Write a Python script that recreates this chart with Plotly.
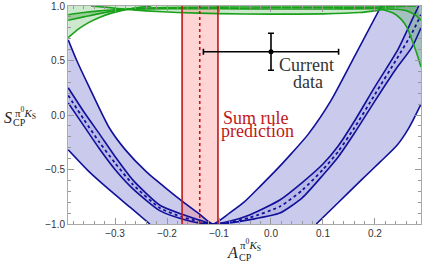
import plotly.graph_objects as go

# ---------------- data ----------------
X_RANGE = [-0.3904, 0.2885]
Y_RANGE = [-1.0, 1.0]

# outer blue band: upper boundary (V-shaped) and lower boundary (two branches)
U_A = [-0.39, -0.374, -0.35, -0.312, -0.28, -0.24, -0.2, -0.171, -0.14, -0.112,
       -0.08, -0.052, -0.02, 0.013, 0.04, 0.071, 0.115, 0.162, 0.212]
U_S = [0.69, 0.505, 0.26, -0.11, -0.32, -0.52, -0.68, -0.79, -0.9, -1.0,
       -0.9, -0.8, -0.65, -0.49, -0.35, -0.18, 0.13, 0.55, 1.0]
L_LEFT_A = [-0.39, -0.35, -0.31, -0.27, -0.233]
L_LEFT_S = [-0.32, -0.52, -0.69, -0.85, -1.0]
L_RIGHT_A = [0.087, 0.13, 0.173, 0.21, 0.242, 0.265, 0.2885]
L_RIGHT_S = [-1.0, -0.8, -0.6, -0.43, -0.28, -0.12, 0.1]

# inner blue band
IH_A = [-0.39, -0.36, -0.329, -0.30, -0.265, -0.213, -0.171, -0.14, -0.112,
        -0.08, -0.04, 0.017, 0.06, 0.10, 0.13, 0.16, 0.2, 0.244, 0.271, 0.284]
IH_S = [0.25, 0.03, -0.18, -0.38, -0.6, -0.83, -0.91, -0.96, -1.0,
        -0.975, -0.915, -0.78, -0.62, -0.45, -0.28, -0.06, 0.26, 0.6, 0.87, 1.0]
IL_A = [-0.39, -0.36, -0.33, -0.30, -0.265, -0.213, -0.171, -0.14, -0.112,
        -0.08, -0.04, 0.017, 0.06, 0.1, 0.13, 0.16, 0.2, 0.24, 0.271, 0.2885]
IL_S = [0.11, -0.1, -0.31, -0.5, -0.68, -0.88, -0.955, -0.99, -1.0,
        -0.99, -0.96, -0.9, -0.76, -0.55, -0.38, -0.17, 0.13, 0.42, 0.62, 0.8]
IM_A = [-0.39, -0.36, -0.33, -0.30, -0.265, -0.213, -0.171, -0.14, -0.112,
        -0.08, -0.04, 0.017, 0.06, 0.1, 0.13, 0.16, 0.2, 0.24, 0.271, 0.2885]
IM_S = [0.18, -0.04, -0.25, -0.44, -0.64, -0.855, -0.935, -0.975, -1.0,
        -0.985, -0.94, -0.84, -0.69, -0.5, -0.33, -0.12, 0.19, 0.5, 0.75, 0.92]

# green curves near S = 1
GL_A = [-0.39, -0.37, -0.35, -0.33, -0.31, -0.29, -0.27, -0.25, -0.23]
GL_S = [0.71, 0.79, 0.85, 0.895, 0.93, 0.955, 0.975, 0.99, 1.0]
T1_A = [-0.28, -0.24, -0.18, -0.1, 0.0, 0.1, 0.17, 0.2, 0.215, 0.235, 0.25,
        0.262, 0.271, 0.28, 0.2885]
T1_S = [0.97, 0.955, 0.94, 0.93, 0.925, 0.928, 0.94, 0.955, 0.965, 0.935, 0.88,
        0.8, 0.69, 0.57, 0.44]
T1_UP_A = [-0.346, -0.31, -0.28]
T1_UP_S = [1.0, 0.985, 0.97]
GNA_A = [-0.39, -0.36, -0.33, -0.30, -0.27, -0.2, -0.1, 0.0, 0.1, 0.2, 0.25, 0.28]
GNA_S = [0.92, 0.94, 0.955, 0.965, 0.975, 0.985, 0.99, 0.99, 0.99, 0.99, 0.995, 1.0]
GNB_A = [-0.39, -0.36, -0.33, -0.30, -0.27, -0.2, -0.1, 0.0, 0.1, 0.2, 0.24,
         0.262, 0.28, 0.2885]
GNB_S = [0.87, 0.9, 0.93, 0.955, 0.97, 0.975, 0.975, 0.972, 0.972, 0.975, 0.97,
         0.955, 0.91, 0.87]

# sum-rule prediction band
RED_LO, RED_MID, RED_HI = -0.171, -0.137, -0.102

# current data
DATA_A, DATA_S = [0.0], [0.58]
DATA_ERR_A, DATA_ERR_S = [0.13], [0.17]

# ---------------- styles ----------------
BLUE = "#10109a"
LAV = "rgba(150,150,220,0.5)"
GREEN = "#1aa01a"
RED = "#c01818"

fig = go.Figure()

# outer blue band fill
out_x = U_A + [X_RANGE[1]] + L_RIGHT_A[::-1] + L_LEFT_A[::-1]
out_y = U_S + [Y_RANGE[1]] + L_RIGHT_S[::-1] + L_LEFT_S[::-1]
fig.add_trace(go.Scatter(x=out_x, y=out_y, fill="toself", fillcolor=LAV,
                         line=dict(width=0), mode="lines", hoverinfo="skip"))
# inner band fill
fig.add_trace(go.Scatter(x=IH_A + IL_A[::-1], y=IH_S + IL_S[::-1], fill="toself",
                         fillcolor="rgba(60,60,180,0.12)", line=dict(width=0),
                         mode="lines", hoverinfo="skip"))
# green fill (above lower-left curve and T1 up to the top)
g_x = GL_A[:7] + T1_A[1:] + [X_RANGE[1], X_RANGE[0]]
g_y = GL_S[:7] + T1_S[1:] + [Y_RANGE[1], Y_RANGE[1]]
fig.add_trace(go.Scatter(x=g_x, y=g_y, fill="toself", fillcolor="rgba(60,170,60,0.26)",
                         line=dict(width=0), mode="lines", hoverinfo="skip"))
fig.add_trace(go.Scatter(x=GNA_A + GNB_A[::-1], y=GNA_S + GNB_S[::-1], fill="toself",
                         fillcolor="rgba(30,150,30,0.3)", line=dict(width=0),
                         mode="lines", hoverinfo="skip"))
# red band fill
fig.add_trace(go.Scatter(x=[RED_LO, RED_HI, RED_HI, RED_LO],
                         y=[Y_RANGE[0], Y_RANGE[0], Y_RANGE[1], Y_RANGE[1]],
                         fill="toself", fillcolor="rgba(255,100,100,0.28)",
                         line=dict(width=0), mode="lines", hoverinfo="skip"))

def line(xs, ys, color, width=1.6, dash="solid"):
    fig.add_trace(go.Scatter(x=xs, y=ys, mode="lines",
                             line=dict(color=color, width=width, dash=dash, shape="spline",
                                       smoothing=0.6),
                             hoverinfo="skip"))

# blue lines
line(U_A, U_S, BLUE)
line(L_LEFT_A, L_LEFT_S, BLUE)
line(L_RIGHT_A, L_RIGHT_S, BLUE)
line(IH_A, IH_S, BLUE)
line(IL_A, IL_S, BLUE)
line(IM_A, IM_S, BLUE, width=1.8, dash="dot")
# green lines
line(GL_A, GL_S, GREEN)
line(T1_UP_A + T1_A[1:], T1_UP_S + T1_S[1:], GREEN)
line(GNA_A, GNA_S, GREEN)
line(GNB_A, GNB_S, GREEN)
# red lines
for xv, dash in [(RED_LO, "solid"), (RED_HI, "solid"), (RED_MID, "dot")]:
    fig.add_trace(go.Scatter(x=[xv, xv], y=Y_RANGE, mode="lines",
                             line=dict(color=RED, width=1.6, dash=dash), hoverinfo="skip"))

# current data point
fig.add_trace(go.Scatter(x=DATA_A, y=DATA_S, mode="markers",
                         marker=dict(color="black", size=5),
                         error_x=dict(type="data", array=DATA_ERR_A, color="black",
                                      thickness=1.6, width=3),
                         error_y=dict(type="data", array=DATA_ERR_S, color="black",
                                      thickness=1.6, width=3),
                         hoverinfo="skip"))

SERIF = "Liberation Serif"
ann = []
def text(x, y, t, size, color="#222", xanchor="center", yanchor="middle", ref="data"):
    d = dict(x=x, y=y, text=t, showarrow=False, xanchor=xanchor, yanchor=yanchor,
             font=dict(family=SERIF, size=size, color=color))
    if ref == "paper":
        d.update(xref="paper", yref="paper")
    ann.append(d)

text(0.068, 0.455, "Current", 18, "#333")
text(0.071, 0.30, "data", 18, "#333")
text(-0.028, -0.025, "Sum rule", 18, RED)
text(-0.026, -0.15, "prediction", 18, RED)

# axis titles built from pieces
text(-0.171, 0.49, "<i>S</i>", 16, ref="paper")
text(-0.155, 0.51, "π<sup>0</sup><i>K</i><sub>S</sub>", 11, xanchor="left", ref="paper")
text(-0.162, 0.465, "CP", 10, xanchor="left", ref="paper")
text(0.466, -0.13, "<i>A</i>", 16, ref="paper")
text(0.482, -0.095, "π<sup>0</sup><i>K</i><sub>S</sub>", 11, xanchor="left", ref="paper")
text(0.479, -0.152, "CP", 10, xanchor="left", ref="paper")

axis_common = dict(showgrid=False, zeroline=False, showline=True, linecolor="#aaaaaa",
                   linewidth=1, mirror="allticks", ticks="inside", ticklen=6,
                   tickcolor="#999999", tickwidth=1,
                   tickfont=dict(family="Liberation Sans", size=10, color="#333"))
fig.update_layout(
    width=422, height=269, margin=dict(l=68, r=1, t=6, b=45),
    plot_bgcolor="white", paper_bgcolor="white", showlegend=False,
    xaxis=dict(range=X_RANGE, tickvals=[-0.3, -0.2, -0.1, 0.0, 0.1, 0.2], tickformat=".1f",
               minor=dict(dtick=0.02, tick0=0, ticks="inside", ticklen=3, tickcolor="#999999"),
               **axis_common),
    yaxis=dict(range=Y_RANGE, tickvals=[-1.0, -0.5, 0.0, 0.5, 1.0], tickformat=".1f",
               minor=dict(dtick=0.1, tick0=0, ticks="inside", ticklen=3, tickcolor="#999999"),
               **axis_common),
    annotations=ann,
)
fig.write_html("out.html", config={"displayModeBar": False, "staticPlot": True},
               post_script="document.body.style.margin='0';")
